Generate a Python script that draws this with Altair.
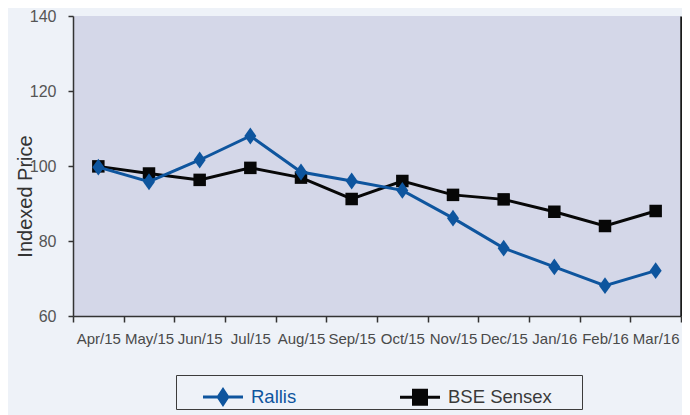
import altair as alt
import pandas as pd

months = ["Apr/15", "May/15", "Jun/15", "Jul/15", "Aug/15", "Sep/15",
          "Oct/15", "Nov/15", "Dec/15", "Jan/16", "Feb/16", "Mar/16"]
rallis = [99.7, 95.8, 101.6, 108.0, 98.4, 96.0, 93.5, 86.1, 78.1, 73.1, 68.1, 72.1]
sensex = [99.9, 98.0, 96.3, 99.5, 96.9, 91.2, 96.0, 92.3, 91.1, 87.8, 84.0, 88.0]
series_names = ["Rallis", "BSE Sensex"]
series_colors = ["#0e559e", "#070707"]
y_ticks = [60, 80, 100, 120, 140]

df = pd.DataFrame({
    "month": months + months,
    "series": [series_names[0]] * len(months) + [series_names[1]] * len(months),
    "value": rallis + sensex,
})

FONT = "Liberation Sans, Arial, Helvetica, sans-serif"

DIAMOND = "M0,-1.4L1,0L0,1.4L-1,0Z"
LEG_RALLIS = "M-1,-0.075H1V0.075H-1Z M0,-0.5L0.33,0L0,0.5L-0.33,0Z"
LEG_SENSEX = "M-1,-0.075H1V0.075H-1Z M-0.4,-0.43H0.4V0.43H-0.4Z"

x_scale = alt.Scale(type="band", paddingInner=0, paddingOuter=0)


def y_scale():
    return alt.Scale(domain=[60, 140], nice=False, zero=False)


x_enc = alt.X(
    "month:N", sort=months, scale=x_scale,
    axis=alt.Axis(title=None, labelAngle=0, tickBand="extent", labelFontSize=15,
                  labelColor="#4a4a4a", labelFont=FONT, tickSize=6, tickColor="#333333",
                  tickWidth=1.5, domainColor="#333333", domainWidth=1.5, labelPadding=9,
                  grid=False, labelOverlap=False),
)

y_left = alt.Y(
    "value:Q", scale=y_scale(),
    axis=alt.Axis(values=y_ticks, title="Indexed Price", titleFontSize=20, titleFont=FONT,
                  titleFontWeight="normal", titleColor="#333333", titleX=-42, titleY=180,
                  titleBaseline="alphabetic", labelFontSize=16, labelFont=FONT,
                  labelColor="#555555", labelPadding=12, tickSize=5, tickColor="#333333",
                  tickWidth=1.5, domainColor="#333333", domainWidth=1.5, grid=False),
)
y_none = alt.Y("value:Q", scale=y_scale(), axis=None)
y_right = alt.Y(
    "value:Q", scale=y_scale(),
    axis=alt.Axis(orient="right", labels=False, ticks=False, title=None, grid=False,
                  domain=True, domainColor="#1a1a1a", domainWidth=2.5),
)

base = alt.Chart(df)

sensex_line = base.transform_filter(alt.datum.series == series_names[1]).mark_line(
    color=series_colors[1], strokeWidth=3).encode(x=x_enc, y=y_left)
sensex_pts = base.transform_filter(alt.datum.series == series_names[1]).mark_point(
    filled=True, opacity=1, color=series_colors[1], shape="square", size=156,
    strokeWidth=0).encode(x=x_enc, y=y_none)
rallis_line = base.transform_filter(alt.datum.series == series_names[0]).mark_line(
    color=series_colors[0], strokeWidth=3).encode(x=x_enc, y=y_none)
rallis_pts = base.transform_filter(alt.datum.series == series_names[0]).mark_point(
    filled=True, opacity=1, color=series_colors[0], shape=DIAMOND, size=144,
    strokeWidth=0).encode(x=x_enc, y=y_right)

leg = alt.Legend(
    orient="none", legendX=103, legendY=359, direction="horizontal",
    title="\u00a0", titleOrient="left", titleFontSize=1, titlePadding=25,
    padding=2, strokeColor="#3c3c3c", symbolSize=1600, symbolStrokeWidth=0,
    symbolOpacity=1, labelFont=FONT, labelFontSize=18.5, labelOffset=8,
    columnPadding=103, labelLimit=400,
    labelExpr="datum.label == 'BSE Sensex' ? datum.label + '\u2800\u2800' : datum.label",
    labelColor=alt.ExprRef(expr="datum.label == 'Rallis' ? '#0e559e' : '#3a3a3a'"),
)

legend_layer = base.transform_filter("false").mark_point(
    filled=True, opacity=1, size=1600, strokeWidth=0).encode(
    x=x_enc, y=y_none,
    color=alt.Color("series:N", scale=alt.Scale(domain=series_names, range=series_colors),
                    legend=leg),
    shape=alt.Shape("series:N", scale=alt.Scale(domain=series_names,
                                                 range=[LEG_RALLIS, LEG_SENSEX]),
                    legend=leg),
)

chart = alt.layer(
    sensex_line, sensex_pts, rallis_line, rallis_pts, legend_layer
).resolve_scale(y="independent").resolve_axis(y="independent").properties(
    width=608, height=300,
    autosize=alt.AutoSizeParams(type="none"),
    padding={"left": 65, "top": 8, "right": 1, "bottom": 99},
).configure(background="#eef2f8", font=FONT).configure_view(fill="#d4d7e8", strokeWidth=0)

chart.save("out.html", embed_options={"renderer": "svg", "actions": False})
